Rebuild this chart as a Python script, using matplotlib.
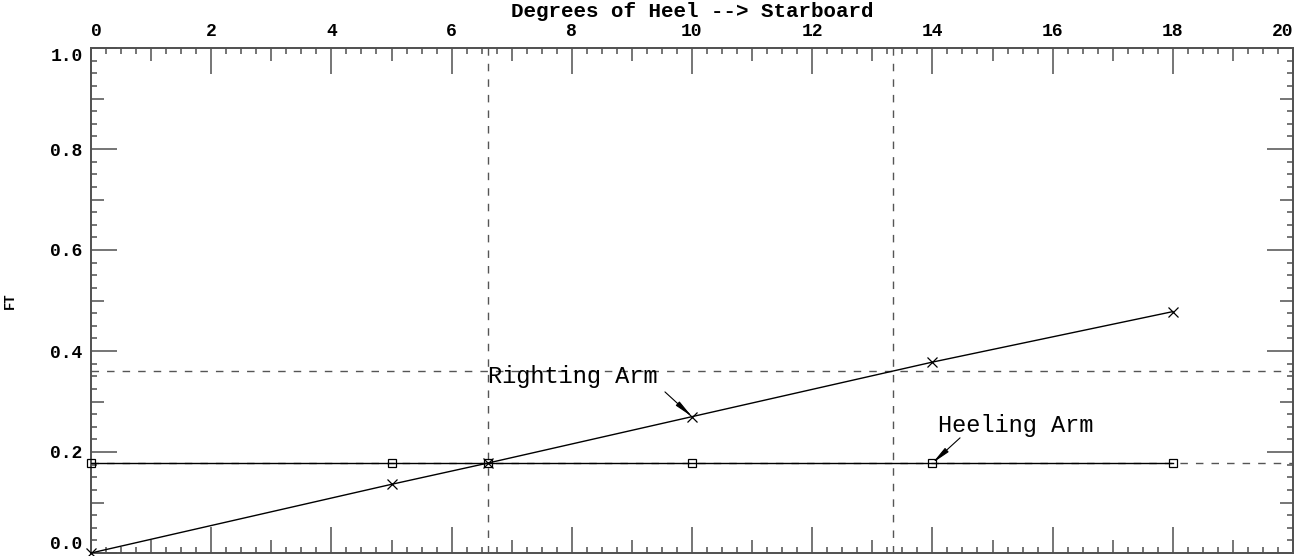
import matplotlib
matplotlib.use("Agg")
import matplotlib.pyplot as plt
from matplotlib.ticker import FixedLocator, MultipleLocator, FuncFormatter

# Stability curve data (degrees of heel vs. arm length in feet)
heel_deg = [0, 5, 6.6, 10, 14, 18]
righting_arm = [0.0, 0.136, 0.178, 0.270, 0.378, 0.478]
heeling_arm = [0.178, 0.178, 0.178, 0.178, 0.178, 0.178]

# Reference lines: equilibrium angle, limit angle, and twice the heeling arm
equilibrium_angle = 6.6
limit_angle = 13.35
double_heeling = 0.36

x_ticks = list(range(0, 21))
y_ticks = [round(0.1 * i, 1) for i in range(0, 11)]

plt.rcParams["lines.scale_dashes"] = False
mono = ["Liberation Mono", "DejaVu Sans Mono"]

fig = plt.figure(figsize=(12.96, 5.56), dpi=100)
ax = fig.add_axes([91 / 1296, 3 / 556, 1202 / 1296, 505 / 556])

axis_gray = "#505050"
dash_gray = "#555555"
dash = (0, (5.4, 5.8))

# Dashed guide lines
ax.axvline(equilibrium_angle, color=dash_gray, lw=1.0, ls=dash, zorder=1)
ax.axvline(limit_angle, color=dash_gray, lw=1.0, ls=dash, zorder=1)
ax.axhline(double_heeling, color=dash_gray, lw=1.0, ls=dash, zorder=1)
ax.axhline(heeling_arm[0], color=dash_gray, lw=1.0, ls=dash, zorder=1)

# Curves
ax.plot(heel_deg, heeling_arm, color="black", lw=1.0, zorder=3)
ax.plot(heel_deg, heeling_arm, ls="none", marker="s", ms=6, mfc="none",
        mec="black", mew=0.9, clip_on=False, zorder=4)
ax.plot(heel_deg, righting_arm, color="black", lw=1.0, zorder=3)
ax.plot(heel_deg, righting_arm, ls="none", marker="x", ms=7,
        mec="black", mew=0.9, clip_on=False, zorder=4)

# Curve labels and pointer arrows
arrow = dict(arrowstyle="-|>,head_length=1.1,head_width=0.16",
             color="black", lw=0.8, shrinkA=0, shrinkB=0)
ax.text(6.6, 0.337, "Righting Arm", fontsize=17, family=mono,
        ha="left", va="baseline")
ax.annotate("", xy=(heel_deg[3], righting_arm[3]), xytext=(9.55, 0.319),
            arrowprops=arrow)
ax.text(14.09, 0.24, "Heeling Arm", fontsize=17, family=mono,
        ha="left", va="baseline")
ax.annotate("", xy=(heel_deg[4], heeling_arm[4]), xytext=(14.46, 0.228),
            arrowprops=arrow)

ax.set_xlim(0, 20)
ax.set_ylim(0, 1.0)

for s in ax.spines.values():
    s.set_color(axis_gray)
    s.set_linewidth(1.4)

# Ticks: inside on all four sides, labels on top and left
ax.xaxis.set_major_locator(FixedLocator(x_ticks))
ax.xaxis.set_minor_locator(MultipleLocator(0.25))
ax.yaxis.set_major_locator(FixedLocator(y_ticks))
ax.yaxis.set_minor_locator(MultipleLocator(0.025))
ax.xaxis.set_major_formatter(FuncFormatter(lambda v, p: f"{int(round(v))}" if int(round(v)) % 2 == 0 else ""))
ax.yaxis.set_major_formatter(FuncFormatter(lambda v, p: f"{v:.1f}" if int(round(v * 10)) % 2 == 0 else ""))

ax.tick_params(axis="both", which="major", direction="in", length=9.4, width=1.1,
               color=axis_gray, top=True, bottom=True, left=True, right=True,
               labeltop=True, labelbottom=False, labelleft=True, labelright=False,
               labelsize=13, pad=6)
ax.tick_params(axis="both", which="minor", direction="in", length=4.4, width=1.1,
               color=axis_gray, top=True, bottom=True, left=True, right=True)

# Longer ticks at labelled positions; end labels kept inside the frame
xt = ax.xaxis.get_major_ticks()
for t, loc in zip(xt, x_ticks):
    t.label2.set_family(mono)
    t.label2.set_fontweight("bold")
    if int(round(loc)) % 2 == 0:
        t.tick1line.set_markersize(18.7)
        t.tick2line.set_markersize(18.7)
xt[0].label2.set_horizontalalignment("left")
xt[-1].label2.set_horizontalalignment("right")

yt = ax.yaxis.get_major_ticks()
for t, loc in zip(yt, y_ticks):
    t.label1.set_family(mono)
    t.label1.set_fontweight("bold")
    if int(round(loc * 10)) % 2 == 0:
        t.tick1line.set_markersize(18.7)
        t.tick2line.set_markersize(18.7)
yt[0].label1.set_verticalalignment("bottom")
yt[-1].label1.set_verticalalignment("top")

ax.xaxis.set_label_position("top")
ax.set_xlabel("Degrees of Heel --> Starboard", fontsize=15, family=mono,
              fontweight="bold", labelpad=4)
ax.set_ylabel("FT", fontsize=10, family=mono, fontweight="bold")
ax.yaxis.set_label_coords(-0.062, 0.5)

fig.savefig("out.png", dpi=100)
